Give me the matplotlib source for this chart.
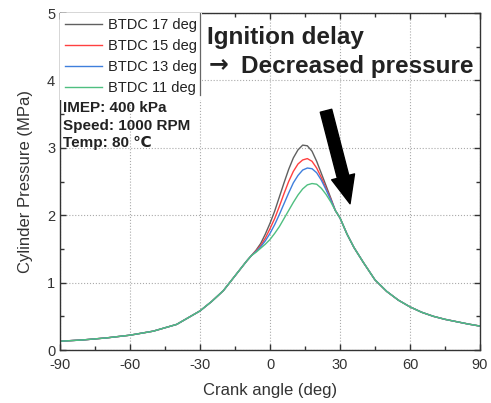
import matplotlib
matplotlib.use('Agg')
import matplotlib.pyplot as plt
from matplotlib.ticker import MultipleLocator

plt.rcParams['font.family'] = ['Liberation Sans', 'DejaVu Sans']
plt.rcParams['axes.unicode_minus'] = False

# crank angle (deg) and cylinder pressure (MPa)
angle = [-90, -80, -70, -60, -50, -40, -30, -25, -20, -15, -10, -8,
         -6, -4, -2, 0, 2, 4, 6, 8, 10, 12, 14, 16, 18, 20, 22, 24, 26, 28,
         30, 33, 36, 40, 45, 50, 55, 60, 65, 70, 75, 80, 85, 90]

p_btdc17 = [0.13, 0.15, 0.18, 0.22, 0.28, 0.38, 0.58, 0.72, 0.88, 1.10, 1.32, 1.40,
            1.48, 1.58, 1.72, 1.88, 2.06, 2.27, 2.48, 2.68, 2.85, 2.97, 3.04, 3.03, 2.95,
            2.80, 2.62, 2.44, 2.26, 2.07,
            1.96, 1.72, 1.52, 1.30, 1.04, 0.87, 0.74, 0.64, 0.56, 0.50, 0.455, 0.42, 0.385, 0.355]
p_btdc15 = [0.13, 0.15, 0.18, 0.22, 0.28, 0.38, 0.58, 0.72, 0.88, 1.10, 1.32, 1.40,
            1.47, 1.55, 1.66, 1.80, 1.95, 2.13, 2.32, 2.50, 2.65, 2.76, 2.82, 2.84, 2.80,
            2.70, 2.56, 2.40, 2.24, 2.07,
            1.96, 1.72, 1.52, 1.30, 1.04, 0.87, 0.74, 0.64, 0.56, 0.50, 0.455, 0.42, 0.385, 0.355]
p_btdc13 = [0.13, 0.15, 0.18, 0.22, 0.28, 0.38, 0.58, 0.72, 0.88, 1.10, 1.32, 1.40,
            1.46, 1.53, 1.62, 1.73, 1.86, 2.01, 2.17, 2.33, 2.48, 2.59, 2.67, 2.70, 2.69,
            2.63, 2.52, 2.38, 2.23, 2.07,
            1.96, 1.72, 1.52, 1.30, 1.04, 0.87, 0.74, 0.64, 0.56, 0.50, 0.455, 0.42, 0.385, 0.355]
p_btdc11 = [0.13, 0.15, 0.18, 0.22, 0.28, 0.38, 0.58, 0.72, 0.88, 1.10, 1.32, 1.40,
            1.45, 1.51, 1.57, 1.64, 1.73, 1.83, 1.95, 2.07, 2.19, 2.30, 2.39, 2.45, 2.47,
            2.46, 2.40, 2.31, 2.20, 2.07,
            1.96, 1.72, 1.52, 1.30, 1.04, 0.87, 0.74, 0.64, 0.56, 0.50, 0.455, 0.42, 0.385, 0.355]

labels = ['BTDC 17 deg', 'BTDC 15 deg', 'BTDC 13 deg', 'BTDC 11 deg']
colors = ['#606060', '#ff4040', '#3f7fdc', '#4fbf80']

fig = plt.figure(figsize=(4.91, 4.03), dpi=100)
ax = fig.add_axes([0.1222, 0.1315, 0.8554, 0.8362])

for p, lab, c in zip([p_btdc17, p_btdc15, p_btdc13, p_btdc11], labels, colors):
    ax.plot(angle, p, color=c, lw=1.0, label=lab)

ax.set_xlim(-90, 90)
ax.set_ylim(0, 5)
ax.xaxis.set_major_locator(MultipleLocator(30))
ax.xaxis.set_minor_locator(MultipleLocator(15))
ax.yaxis.set_major_locator(MultipleLocator(1))
ax.yaxis.set_minor_locator(MultipleLocator(0.5))
ax.tick_params(which='both', direction='in', top=True, right=True,
               colors='#333333', labelcolor='#333333', labelsize=10.5)
ax.tick_params(which='major', length=4, width=1)
ax.tick_params(which='minor', length=3, width=1)
ax.tick_params(axis='x', pad=6)
for s in ax.spines.values():
    s.set_color('#333333')
    s.set_linewidth(1.0)
ax.grid(True, which='major', linestyle=':', color='#aaaaaa', lw=0.8)

ax.set_xlabel('Crank angle (deg)', fontsize=12, color='#333333', labelpad=8)
ax.set_ylabel('Cylinder Pressure (MPa)', fontsize=12, color='#333333', labelpad=10)

leg = ax.legend(loc='upper left', borderaxespad=0, fontsize=10.5, handlelength=2.5,
                handletextpad=0.45, labelspacing=0.48, borderpad=0.35,
                framealpha=1, fancybox=False, edgecolor='none')
for t in leg.get_texts():
    t.set_color('#222222')
ax.axvline(-30, ymin=0.757, ymax=1, color='#666666', lw=0.9, zorder=6)

ax.text(-88.8, 3.69, 'IMEP: 400 kPa\nSpeed: 1000 RPM\nTemp: 80 \u2103',
        fontsize=11, fontweight='bold', color='#222222', va='top', linespacing=1.3,
        zorder=7)

# annotation text, arrow glyph drawn separately to get a wider arrow
ax.text(-26.8, 4.54, 'Ignition delay', fontsize=17.5, fontweight='bold',
        color='#222222', va='baseline')
ax.text(-26.3, 4.14, '\u2192', fontsize=17, fontweight='bold', family='DejaVu Sans',
        color='#222222', va='baseline')
ax.text(-12.6, 4.11, 'Decreased pressure', fontsize=17.5, fontweight='bold',
        color='#222222', va='baseline')

ax.annotate('', xy=(34.3, 2.17), xytext=(24, 3.55),
            arrowprops=dict(arrowstyle='simple,head_length=2.0,head_width=1.7,tail_width=0.85',
                            mutation_scale=10, color='black', shrinkA=0, shrinkB=0))

fig.savefig('out.png', dpi=100)
